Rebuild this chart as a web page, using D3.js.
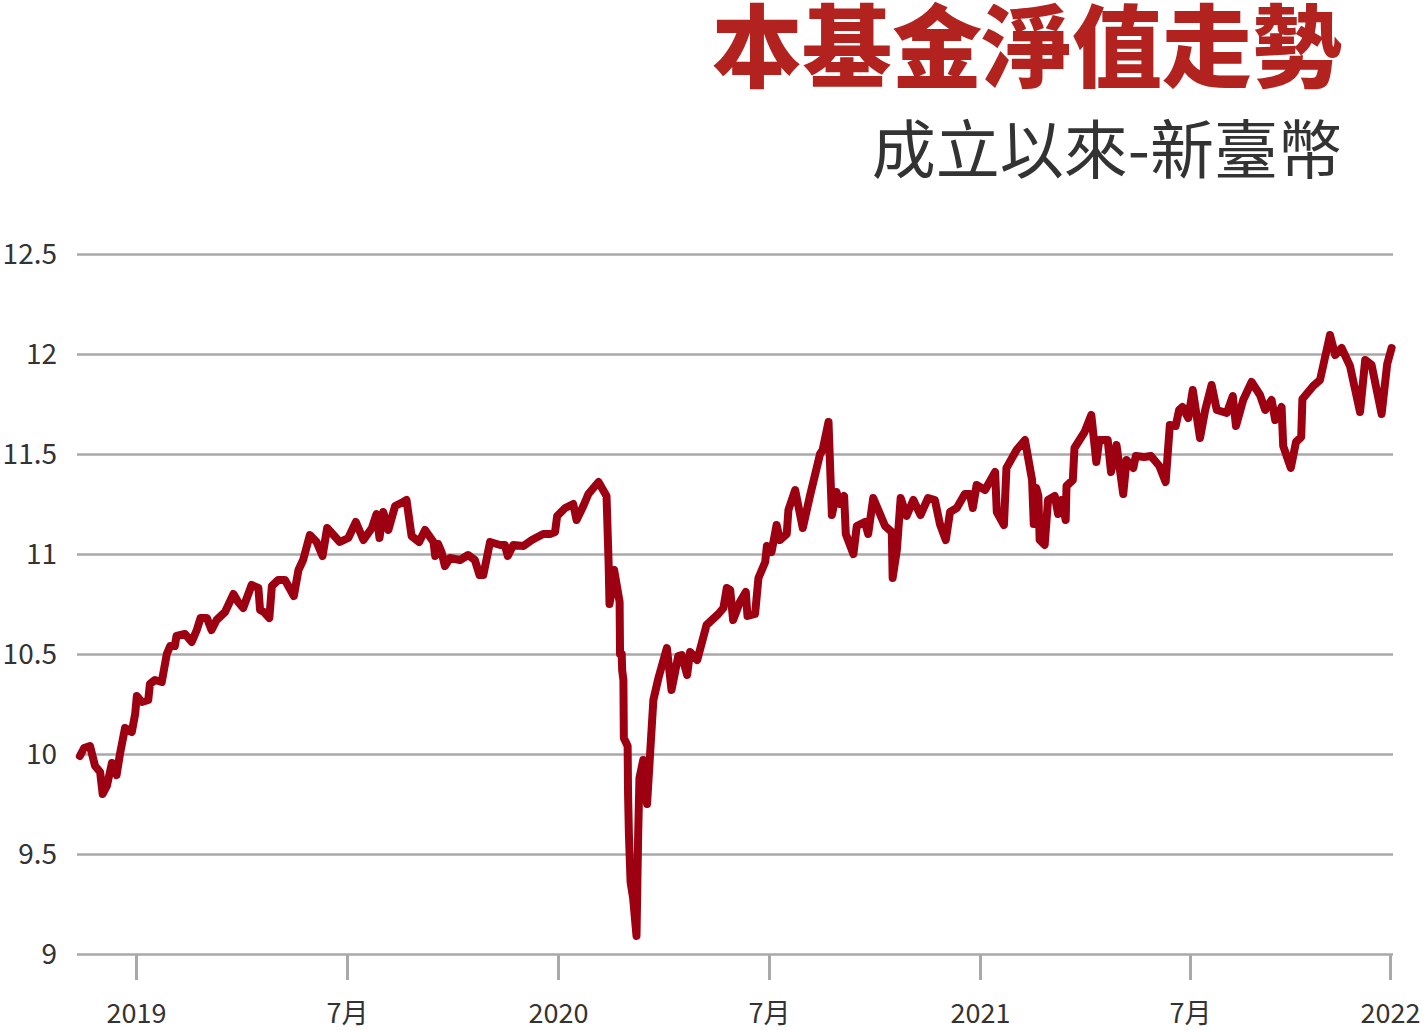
<!DOCTYPE html>
<html><head><meta charset="utf-8">
<script src="https://cdn.jsdelivr.net/npm/d3@7"></script>
<style>body{margin:0;background:#fff;} svg{display:block}</style>
</head><body><svg id="c" width="1424" height="1030"></svg>
<script>
const navDates = [
2018.867,2018.877,2018.891,2018.903,2018.915,2018.921,2018.931,2018.943,2018.954,2018.962,2018.974,2018.990,2018.998,
2019.002,2019.014,2019.029,2019.033,2019.045,2019.061,2019.073,2019.081,2019.092,2019.096,2019.116,2019.132,2019.144,
2019.153,2019.168,2019.179,2019.191,2019.211,2019.231,2019.242,2019.254,2019.274,2019.290,2019.294,2019.303,2019.316,
2019.322,2019.337,2019.353,2019.374,2019.385,2019.396,2019.412,2019.428,2019.442,2019.453,2019.483,2019.503,2019.521,
2019.539,2019.559,2019.570,2019.577,2019.586,2019.598,2019.614,2019.633,2019.641,2019.653,2019.671,2019.685,2019.705,
2019.709,2019.716,2019.724,2019.732,2019.744,2019.768,2019.787,2019.803,2019.814,2019.823,2019.839,2019.863,2019.874,
2019.881,2019.894,2019.918,2019.938,2019.965,2019.981,2019.993,2019.998,2020.017,2020.036,2020.044,2020.060,2020.072,
2020.096,2020.115,2020.120,2020.122,2020.126,2020.133,2020.146,2020.147,2020.151,2020.152,2020.155,2020.156,2020.165,
2020.166,2020.168,2020.172,2020.178,2020.186,2020.190,2020.193,2020.198,2020.202,2020.211,2020.226,2020.238,2020.258,
2020.269,2020.285,2020.293,2020.306,2020.313,2020.330,2020.352,2020.380,2020.392,2020.400,2020.408,2020.415,2020.431,
2020.445,2020.449,2020.467,2020.475,2020.491,2020.495,2020.506,2020.518,2020.526,2020.542,2020.546,2020.562,2020.580,
2020.597,2020.621,2020.627,2020.641,2020.649,2020.660,2020.668,2020.678,2020.682,2020.700,2020.708,2020.727,2020.735,
2020.747,2020.775,2020.791,2020.793,2020.803,2020.812,2020.826,2020.842,2020.859,2020.877,2020.893,2020.905,2020.919,
2020.929,2020.945,2020.964,2020.976,2020.983,2020.992,2021.012,2021.036,2021.040,2021.057,2021.063,2021.087,2021.107,
2021.124,2021.128,2021.134,2021.139,2021.142,2021.154,2021.162,2021.178,2021.186,2021.194,2021.204,2021.206,2021.221,
2021.225,2021.249,2021.265,2021.277,2021.284,2021.304,2021.312,2021.325,2021.341,2021.349,2021.365,2021.371,2021.391,
2021.407,2021.427,2021.442,2021.452,2021.466,2021.474,2021.482,2021.496,2021.507,2021.525,2021.538,2021.554,2021.567,
2021.592,2021.607,2021.615,2021.633,2021.654,2021.675,2021.688,2021.704,2021.713,2021.729,2021.733,2021.752,2021.765,
2021.778,2021.781,2021.808,2021.825,2021.850,2021.863,2021.879,2021.900,2021.925,2021.938,2021.954,2021.979,2021.993,
2022.004
];
const navValues = [
9.99,10.03,10.04,9.94,9.91,9.80,9.84,9.955,9.895,10.00,10.13,10.11,10.20,
10.29,10.26,10.27,10.35,10.37,10.36,10.50,10.54,10.54,10.59,10.60,10.56,10.62,
10.68,10.68,10.62,10.67,10.71,10.80,10.76,10.73,10.845,10.83,10.72,10.71,10.68,
10.84,10.87,10.87,10.79,10.92,10.97,11.095,11.06,10.99,11.13,11.06,11.08,11.16,
11.07,11.13,11.20,11.08,11.21,11.12,11.24,11.26,11.27,11.09,11.06,11.12,11.06,
10.99,11.05,11.01,10.94,10.98,10.97,10.995,10.97,10.895,10.895,11.06,11.045,11.045,
10.99,11.045,11.04,11.07,11.10,11.10,11.11,11.19,11.23,11.25,11.17,11.24,11.30,
11.36,11.29,10.95,10.75,10.80,10.92,10.76,10.50,10.50,10.42,10.37,10.08,10.04,
9.80,9.60,9.36,9.28,9.09,9.60,9.88,9.93,9.97,9.75,10.27,10.38,10.53,
10.32,10.49,10.495,10.395,10.51,10.47,10.645,10.70,10.73,10.83,10.82,10.67,10.76,
10.81,10.69,10.70,10.88,10.96,11.04,11.01,11.145,11.07,11.10,11.22,11.32,11.13,
11.29,11.50,11.52,11.66,11.195,11.31,11.25,11.29,11.10,11.00,11.14,11.16,11.10,
11.28,11.14,11.11,10.88,11.02,11.28,11.19,11.27,11.195,11.28,11.27,11.15,11.07,
11.21,11.23,11.30,11.30,11.23,11.345,11.32,11.41,11.21,11.145,11.43,11.52,11.57,
11.37,11.15,11.33,11.29,11.07,11.045,11.27,11.29,11.20,11.27,11.17,11.34,11.37,
11.53,11.61,11.695,11.46,11.57,11.57,11.41,11.545,11.30,11.47,11.43,11.49,11.485,
11.49,11.44,11.36,11.645,11.64,11.72,11.735,11.68,11.82,11.58,11.72,11.845,11.72,
11.705,11.79,11.64,11.77,11.86,11.795,11.72,11.77,11.67,11.735,11.54,11.43,11.56,
11.585,11.775,11.84,11.87,12.095,11.995,12.03,11.94,11.71,11.97,11.945,11.70,11.95,
12.03
];
const xTickValues = [2019, 2019.5, 2020, 2020.5, 2021, 2021.5, 2022];
const xTickLabels = ["2019", "7月", "2020", "7月", "2021", "7月", "2022"];
const yTickValues = [9, 9.5, 10, 10.5, 11, 11.5, 12, 12.5];
const yTickLabels = ["9", "9.5", "10", "10.5", "11", "11.5", "12", "12.5"];
const titleText = "本基金淨值走勢";
const subtitleText = "成立以來-新臺幣";

const FONT = "'Noto Sans CJK TC','Noto Sans CJK SC','Noto Sans',sans-serif";
const svg = d3.select("#c");

const x = d3.scaleLinear().domain(xTickValues).range([136, 347, 558, 769, 980, 1190, 1390]);
const y = d3.scaleLinear().domain([9, 12.5]).range([954, 254]);
const gridLeft = 77, gridRight = 1393;

// y gridlines + labels
const yAxis = d3.axisLeft(y).tickValues(yTickValues)
  .tickFormat((d, i) => yTickLabels[i])
  .tickSize(-(gridRight - gridLeft)).tickPadding(20);
const gy = svg.append("g").attr("transform", `translate(${gridLeft},0)`).call(yAxis);
gy.select(".domain").remove();
gy.selectAll("line").attr("stroke", "#a9a9a9").attr("stroke-width", 2.5);
gy.selectAll("text").attr("fill", "#333").style("font-family", FONT).style("font-size", "28px")
  .attr("dy", "0.35em");

// x axis ticks + labels
const xAxis = d3.axisBottom(x).tickValues(xTickValues)
  .tickFormat((d, i) => xTickLabels[i]).tickSize(26).tickPadding(0);
const gx = svg.append("g").attr("transform", `translate(0,${y(9)})`).call(xAxis);
gx.select(".domain").remove();
gx.selectAll("line").attr("stroke", "#a9a9a9").attr("stroke-width", 3);
gx.selectAll("text").attr("fill", "#333").style("font-family", FONT).style("font-size", "27px")
  .attr("y", 60).attr("dy", "0.35em");

// line
const pts = navDates.map((d, i) => [d, navValues[i]]);
const line = d3.line().x(d => x(d[0])).y(d => y(d[1]));
svg.append("path").datum(pts).attr("d", line)
  .attr("fill", "none").attr("stroke", "#9c0011").attr("stroke-width", 8)
  .attr("stroke-linejoin", "round").attr("stroke-linecap", "round");

// titles
svg.append("text").attr("x", 1342).attr("y", 80).attr("text-anchor", "end")
  .style("font-family", FONT).style("font-size", "90px").style("font-weight", 900)
  .attr("fill", "#b2221f").text(titleText);
svg.append("text").attr("x", 1342).attr("y", 173).attr("text-anchor", "end")
  .style("font-family", FONT).style("font-size", "64px").style("font-weight", 400)
  .attr("fill", "#333").text(subtitleText);
</script></body></html>
